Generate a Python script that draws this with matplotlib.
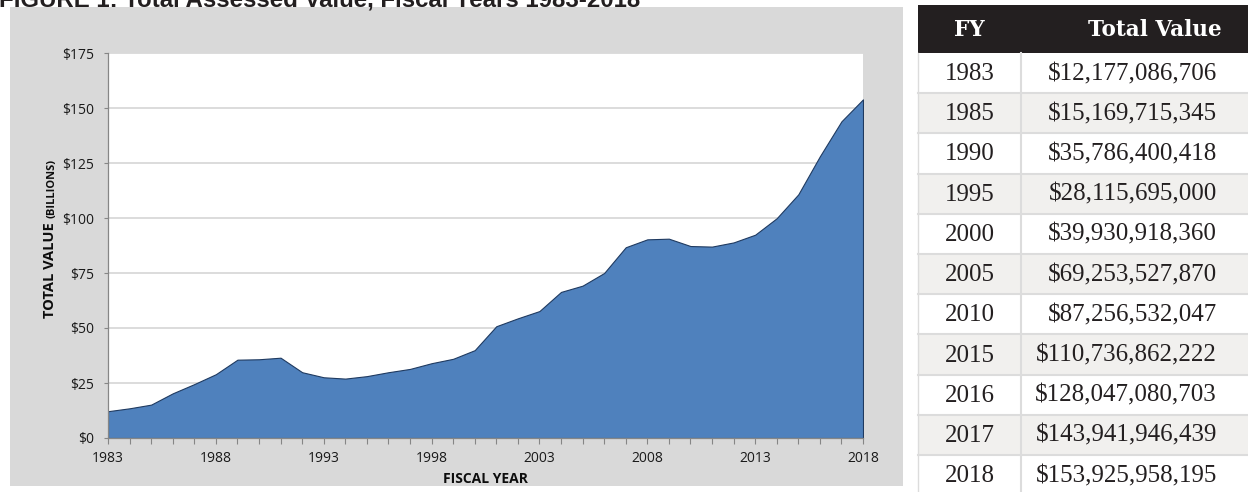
import matplotlib.pyplot as plt
from matplotlib.patches import Rectangle
from matplotlib.ticker import FuncFormatter, MultipleLocator

# total assessed value by fiscal year, billions of dollars
years = list(range(1983, 2019))
values = [12.18, 13.5, 15.17, 20.3, 24.5, 29.0, 35.6, 35.79, 36.5, 29.9,
          27.6, 27.0, 28.12, 29.9, 31.4, 34.0, 36.0, 39.93, 50.8, 54.4,
          57.7, 66.4, 69.25, 75.0, 86.7, 90.3, 90.6, 87.26, 87.0, 88.9,
          92.4, 99.9, 110.74, 128.05, 143.94, 153.93]

# side table: selected years with exact dollar totals
table_years = [1983, 1985, 1990, 1995, 2000, 2005, 2010, 2015, 2016, 2017, 2018]
table_totals = [12177086706, 15169715345, 35786400418, 28115695000,
                39930918360, 69253527870, 87256532047, 110736862222,
                128047080703, 143941946439, 153925958195]

W, H = 1248, 492
fig = plt.figure(figsize=(W / 100, H / 100), dpi=100)
fig.patch.set_facecolor('white')

# full-figure axes in pixel units for the panel, title and table
bg = fig.add_axes([0, 0, 1, 1])
bg.set_xlim(0, W)
bg.set_ylim(H, 0)
bg.axis('off')

bg.add_patch(Rectangle((10, 7), 893, 479, facecolor='#d9d9d9', edgecolor='none'))
bg.text(-1, 6, 'FIGURE 1: Total Assessed Value, Fiscal Years 1983-2018',
        fontsize=17.3, fontweight='bold', family='Liberation Sans',
        color='#231f20', va='baseline', ha='left')

# table
tx0, tdiv, tx1 = 918, 1021, W
head_top, head_bot = 5, 53
row_h = 40.2
bg.add_patch(Rectangle((tx0, head_top), tx1 - tx0, head_bot - head_top,
                       facecolor='#231f20', edgecolor='none'))
bg.text((tx0 + tdiv) / 2, (head_top + head_bot) / 2 + 1, 'FY', color='white',
        fontsize=15.5, fontweight='bold', family='DejaVu Serif',
        ha='center', va='center')
bg.text(1155, (head_top + head_bot) / 2 + 1, 'Total Value', color='white',
        fontsize=15.5, fontweight='bold', family='DejaVu Serif',
        ha='center', va='center')

for i, (yr, tot) in enumerate(zip(table_years, table_totals)):
    top = head_bot + i * row_h
    shade = '#f1f0ee' if i % 2 else 'white'
    bg.add_patch(Rectangle((tx0, top), tx1 - tx0, row_h,
                           facecolor=shade, edgecolor='none'))
    if i > 0:
        bg.plot([tx0, tx1], [top, top], color='#dcdcdc', lw=1.5)
    cy = top + row_h / 2 + 1
    bg.text((tx0 + tdiv) / 2, cy, str(yr), fontsize=18,
            family='Liberation Serif', color='#231f20', ha='center', va='center')
    bg.text(1217, cy, '${:,}'.format(tot), fontsize=18,
            family='Liberation Serif', color='#231f20', ha='right', va='center')
bg.plot([tdiv, tdiv], [head_bot, H], color='#dcdcdc', lw=1.5)
bg.plot([tx0, tx0], [head_bot, H], color='#dcdcdc', lw=1.0)

# area chart
left, right, top_px, bot_px = 108, 863, 53, 438
ax = fig.add_axes([left / W, 1 - bot_px / H, (right - left) / W,
                   (bot_px - top_px) / H])
ax.set_facecolor('white')
ax.fill_between(years, values, 0, facecolor='#4f81bd',
                edgecolor='#1f3a60', linewidth=0.8, zorder=3)
ax.set_xlim(1983, 2018)
ax.set_ylim(0, 175)

ax.yaxis.set_major_locator(MultipleLocator(25))
ax.yaxis.set_major_formatter(FuncFormatter(lambda v, p: '${:.0f}'.format(v)))
ax.grid(axis='y', color='#d9d9d9', lw=1.3, zorder=1)
ax.set_axisbelow(True)

ax.set_xticks(range(1983, 2019, 5))
ax.xaxis.set_minor_locator(MultipleLocator(1))

for s in ['top', 'right']:
    ax.spines[s].set_visible(False)
for s in ['left', 'bottom']:
    ax.spines[s].set_color('#868686')
    ax.spines[s].set_linewidth(0.9)
    ax.spines[s].set_zorder(4)

ax.tick_params(axis='y', direction='out', length=3, width=0.8,
               color='#868686', pad=7, labelsize=10, labelcolor='#1a1a1a')
ax.tick_params(axis='x', which='both', direction='out', length=4, width=0.8,
               color='#868686', pad=5, labelsize=10, labelcolor='#1a1a1a')
for lbl in ax.get_xticklabels() + ax.get_yticklabels():
    lbl.set_family('Open Sans')

# axis titles
bg.text((left + right) / 2, 479, 'FISCAL YEAR', fontsize=10, fontweight='bold',
        family='Open Sans', color='#0d0d0d', ha='center', va='center')

yl1 = bg.text(54, 318, 'TOTAL VALUE', fontsize=10.5, fontweight='bold',
              family='Open Sans', color='#0d0d0d', rotation=90,
              rotation_mode='anchor', ha='left', va='baseline')
fig.canvas.draw()
ext = yl1.get_window_extent()
bg.text(54, H - ext.y1 - 4, '(BILLIONS)', fontsize=8, fontweight='bold',
        family='Open Sans', color='#0d0d0d', rotation=90,
        rotation_mode='anchor', ha='left', va='baseline')

fig.savefig('out.png', dpi=100)
